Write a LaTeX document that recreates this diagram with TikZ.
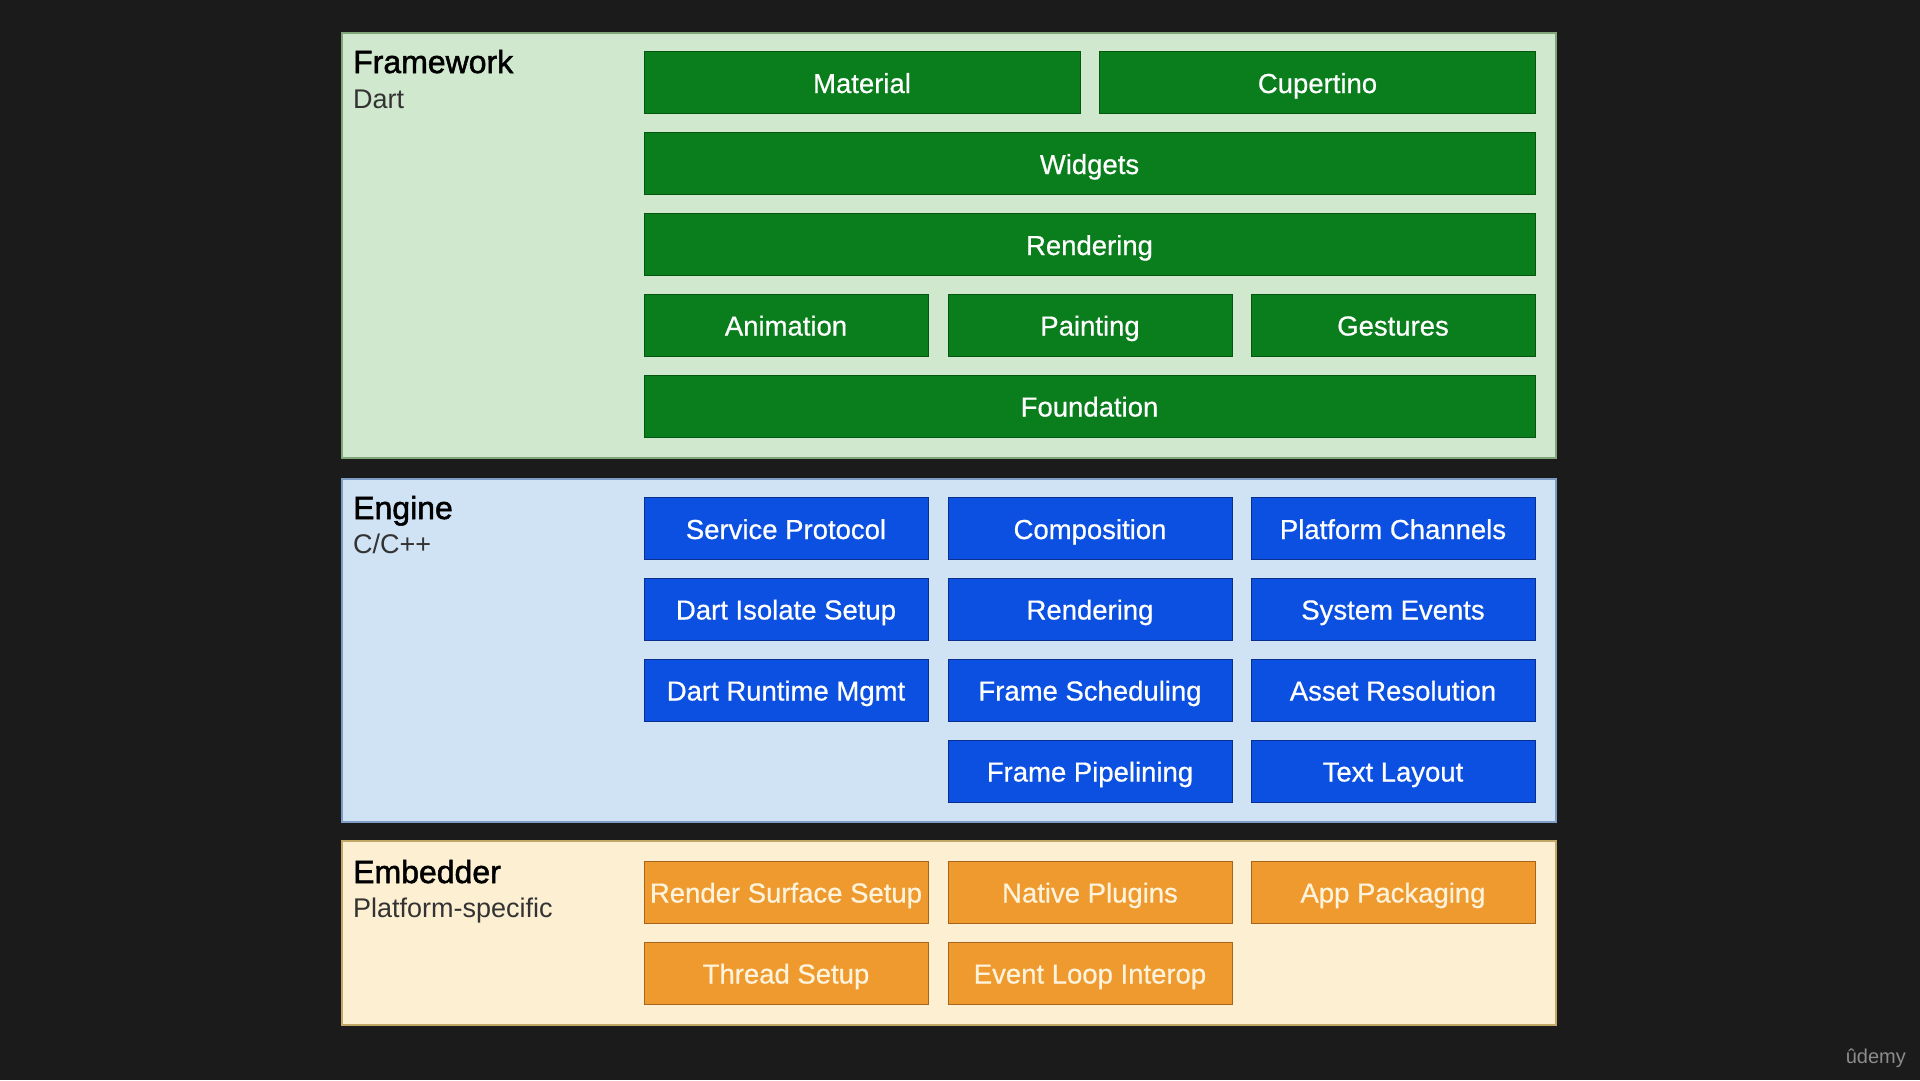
\documentclass[tikz,border=0pt]{standalone}
\usepackage{fontspec}
\setmainfont{Liberation Sans}
\newfontfamily\tilefont[FakeBold=0.6]{Liberation Sans}
\newfontfamily\headfont[FakeBold=1.6]{Liberation Sans}
\usepackage{tikz}
\usetikzlibrary{positioning}

\definecolor{bgdark}{HTML}{1B1B1B}
\definecolor{fwpanel}{HTML}{D0E8CD}
\definecolor{fwline}{HTML}{7FA77A}
\definecolor{fwgreen}{HTML}{0A7D1C}
\definecolor{fwgreenline}{HTML}{05560F}
\definecolor{engpanel}{HTML}{D0E3F5}
\definecolor{engline}{HTML}{7E9CC4}
\definecolor{engblue}{HTML}{0B50E0}
\definecolor{engblueline}{HTML}{0A2F8F}
\definecolor{embpanel}{HTML}{FCEFD2}
\definecolor{embline}{HTML}{C2A867}
\definecolor{emborange}{HTML}{EE9A2E}
\definecolor{emborangeline}{HTML}{A8641A}
\definecolor{embtext}{HTML}{FFF3DC}

\begin{document}
\begin{tikzpicture}[x=1pt, y=-1pt,
    panel/.style={draw, line width=1.5pt, minimum width=1214pt, inner sep=0pt},
    tile/.style={minimum width=284pt, minimum height=62pt, inner sep=0pt, line width=1pt,
      text height=23pt, text depth=2pt, font=\tilefont\fontsize{27.5}{32}\selectfont},
    fwbox/.style={tile, draw=fwgreenline, fill=fwgreen, text=white},
    engbox/.style={tile, draw=engblueline, fill=engblue, text=white},
    embbox/.style={tile, draw=emborangeline, fill=emborange, text=embtext},
    title/.style={anchor=base west, inner sep=0pt, font=\headfont\fontsize{32}{36}\selectfont},
    subtitle/.style={anchor=base west, inner sep=0pt, text=black!80, font=\fontsize{27}{31}\selectfont}]
  \fill[bgdark] (0,0) rectangle (1920,1080);
  \useasboundingbox (0,0) rectangle (1920,1080);

  % layers
  \node[panel, draw=fwline, fill=fwpanel, minimum height=425pt] (framework) at (949,245.5) {};
  \node[panel, draw=engline, fill=engpanel, minimum height=343pt] (engine) at (949,650.5) {};
  \node[panel, draw=embline, fill=embpanel, minimum height=184pt] (embedder) at (949,933) {};

  \node[title] (fwtitle) at (353,73) {Framework};
  \node[subtitle] (fwlang) at (353,108) {Dart};
  \node[title] (engtitle) at (353,519) {Engine};
  \node[subtitle] (englang) at (353,553) {C/C++};
  \node[title] (embtitle) at (353,883) {Embedder};
  \node[subtitle] (embplat) at (353,917) {Platform-specific};

  % framework
  \node[fwbox, minimum width=436pt] (material) at (862,82.5) {Material};
  \node[fwbox, minimum width=436pt] (cupertino) at (1317.5,82.5) {Cupertino};
  \node[fwbox, minimum width=891pt] (widgets) at (1089.5,163.5) {Widgets};
  \node[fwbox, minimum width=891pt] (fwrendering) at (1089.5,244.5) {Rendering};
  \node[fwbox] (animation) at (786,325) {Animation};
  \node[fwbox] (painting) at (1090,325) {Painting};
  \node[fwbox] (gestures) at (1393,325) {Gestures};
  \node[fwbox, minimum width=891pt] (foundation) at (1089.5,406) {Foundation};

  % engine
  \node[engbox] (service) at (786,528.5) {Service Protocol};
  \node[engbox] (composition) at (1090,528.5) {Composition};
  \node[engbox] (channels) at (1393,528.5) {Platform Channels};
  \node[engbox] (isolate) at (786,609) {Dart Isolate Setup};
  \node[engbox] (engrendering) at (1090,609) {Rendering};
  \node[engbox] (sysevents) at (1393,609) {System Events};
  \node[engbox] (runtime) at (786,690) {Dart Runtime Mgmt};
  \node[engbox] (scheduling) at (1090,690) {Frame Scheduling};
  \node[engbox] (assets) at (1393,690) {Asset Resolution};
  \node[engbox] (pipelining) at (1090,771) {Frame Pipelining};
  \node[engbox] (textlayout) at (1393,771) {Text Layout};

  % embedder
  \node[embbox] (surface) at (786,892) {Render Surface Setup};
  \node[embbox] (plugins) at (1090,892) {Native Plugins};
  \node[embbox] (packaging) at (1393,892) {App Packaging};
  \node[embbox] (threads) at (786,973) {Thread Setup};
  \node[embbox] (eventloop) at (1090,973) {Event Loop Interop};

  \node[anchor=base east, inner sep=0pt, text=black!45!white, font=\fontsize{20}{24}\selectfont] (udemy) at (1906,1063) {ûdemy};
\end{tikzpicture}
\end{document}
